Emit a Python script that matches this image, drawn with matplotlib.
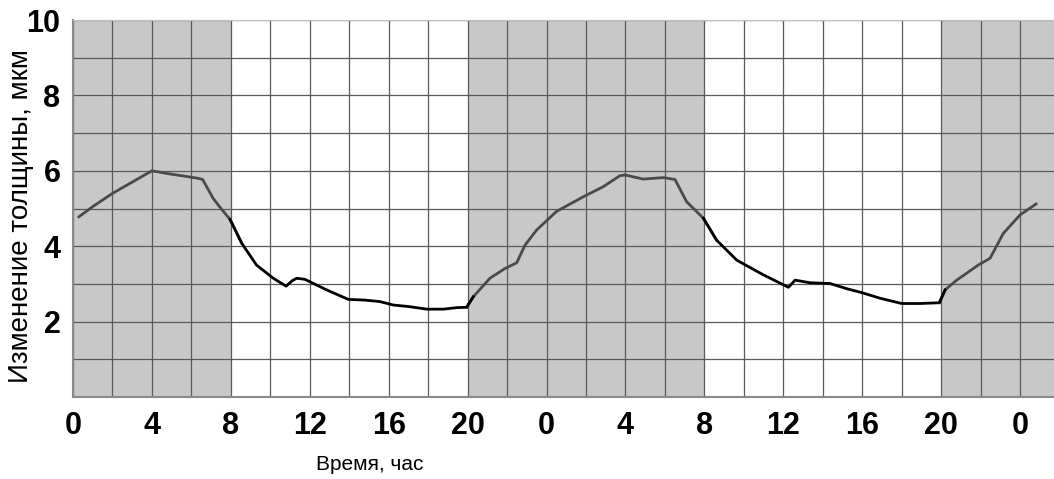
import numpy as np
import matplotlib.pyplot as plt

plt.rcParams['font.family'] = ['Liberation Sans', 'DejaVu Sans']

# ---- data ----
hours = [0.3, 1.0, 2.0, 3.0, 4.0, 4.75, 5.5, 6.35, 6.57, 7.1, 7.5, 7.96,
         8.55, 9.3, 10.15, 10.8, 11.1, 11.34, 11.76, 12.86, 13.95, 14.8, 15.56,
         16.23, 17.0, 17.93, 18.77, 19.45, 19.95,
         20.29, 21.13, 21.9, 22.49, 22.91, 23.5, 24.5, 25.86, 26.88, 27.72,
         27.98, 28.9, 29.92, 30.51, 31.1, 31.95,
         32.62, 33.64, 34.99, 36.26, 36.6, 37.35, 38.37, 39.3, 39.97, 40.9,
         42.0, 42.93, 43.91,
         44.2, 44.79, 45.88, 46.48, 47.15, 48.0, 48.81]
thickness = [4.78, 5.05, 5.40, 5.70, 6.00, 5.93, 5.87, 5.80, 5.77, 5.27, 5.0, 4.71,
             4.08, 3.50, 3.15, 2.94, 3.08, 3.15, 3.12, 2.84, 2.59, 2.57, 2.53,
             2.44, 2.40, 2.33, 2.33, 2.37, 2.38,
             2.66, 3.15, 3.41, 3.56, 4.03, 4.43, 4.92, 5.31, 5.58, 5.87,
             5.89, 5.78, 5.82, 5.77, 5.18, 4.74,
             4.16, 3.63, 3.24, 2.91, 3.10, 3.03, 3.01, 2.86, 2.77, 2.62,
             2.48, 2.48, 2.50,
             2.84, 3.10, 3.50, 3.68, 4.34, 4.83, 5.12]

dark_spans = [(0, 8), (20, 32), (44, 50)]
tick_pos = [0, 4, 8, 12, 16, 20, 24, 28, 32, 36, 40, 44, 48]
tick_lbl = ['0', '4', '8', '12', '16', '20', '0', '4', '8', '12', '16', '20', '0']

x = np.array(hours)
y = np.array(thickness)

fig = plt.figure(figsize=(10.54, 4.79), dpi=100)
ax = fig.add_axes([73/1054, 1 - 397/479, 1 - 73/1054, (397 - 20)/479])

for a, b in dark_spans:
    ax.axvspan(a, b, color='#c8c8c8', lw=0, zorder=0)

# line is grey over shaded spans, black over white ones
in_dark = np.zeros(len(x), bool)
for a, b in dark_spans:
    in_dark |= (x >= a) & (x <= b)
y_dark = np.where(in_dark, y, np.nan)
y_light = np.where(~in_dark, y, np.nan)
for i in range(1, len(x)):
    if in_dark[i] != in_dark[i - 1]:
        y_dark[i - 1] = y[i - 1]; y_dark[i] = y[i]
        y_light[i - 1] = y[i - 1]; y_light[i] = y[i]
ax.plot(x, y_dark, color='#4a4a4a', lw=2, zorder=3)
ax.plot(x, y_light, color='#000000', lw=2, zorder=3)

ax.set_xlim(0, 49.72)
ax.set_ylim(0, 10)
ax.set_xticks(tick_pos)
ax.set_xticklabels(tick_lbl)
ax.set_xticks(np.arange(2, 50, 4), minor=True)
ax.set_yticks([2, 4, 6, 8, 10])
ax.set_yticks([1, 3, 5, 7, 9], minor=True)
ax.grid(True, which='both', color='#5a5a5a', lw=0.9, zorder=1)
ax.set_axisbelow(True)
ax.tick_params(which='both', length=0)
ax.tick_params(axis='x', pad=10, labelsize=22)
ax.tick_params(axis='y', pad=9, labelsize=22)
for lab in ax.get_xticklabels() + ax.get_yticklabels():
    lab.set_fontweight('bold')

for s in ['left', 'bottom']:
    ax.spines[s].set_color('#8a8a8a')
    ax.spines[s].set_linewidth(1.5)
ax.spines['top'].set_color('#c0c0c0')
ax.spines['right'].set_visible(False)

ax.set_ylabel('Изменение толщины, мкм', fontsize=20)
ax.yaxis.set_label_coords(-0.040, 0.48)
fig.text(370/1054, 1 - 465/479, 'Время, час', fontsize=15, ha='center', va='center')

fig.savefig('out.png', dpi=100)
